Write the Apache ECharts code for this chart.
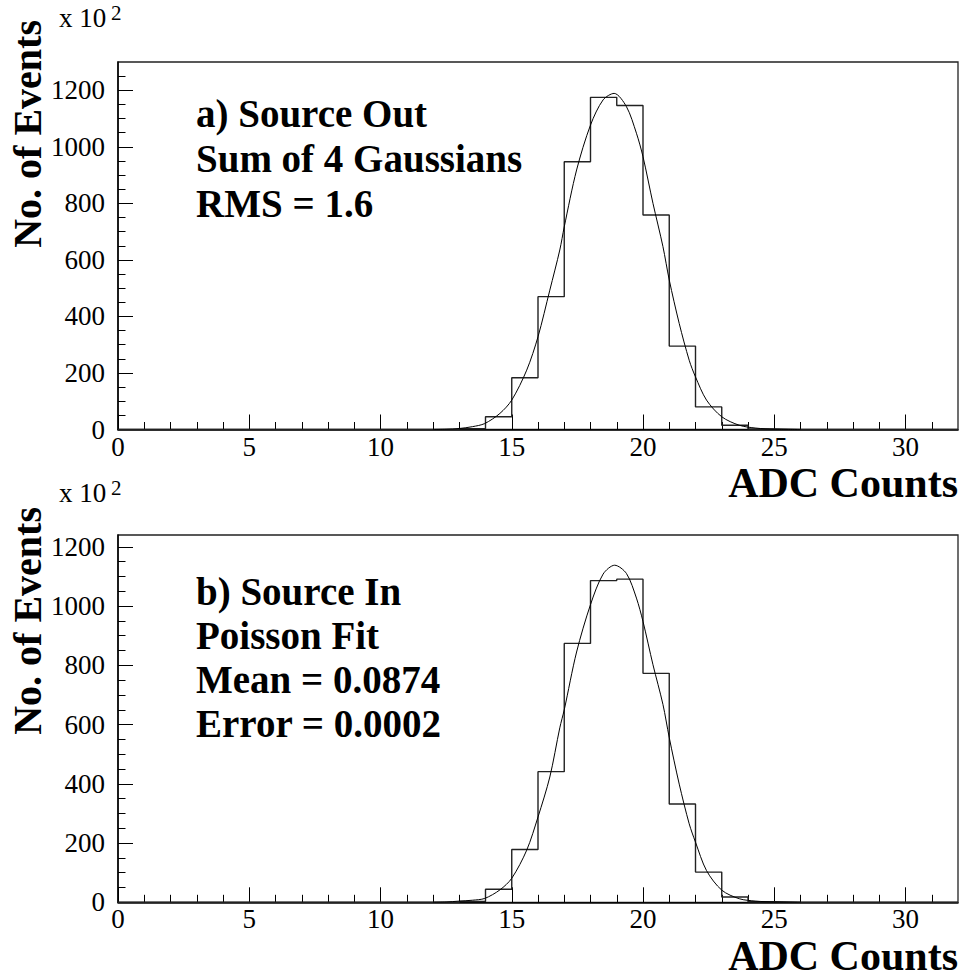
<!DOCTYPE html>
<html>
<head>
<meta charset="utf-8">
<script src="https://cdn.jsdelivr.net/npm/echarts@6/dist/echarts.min.js"></script>
<style>
html,body{margin:0;padding:0;background:#fff;}
#chart{width:963px;height:978px;}
</style>
</head>
<body>
<div id="chart"></div>
<script>
// ---------- data ----------
const binLeft = [0,1,2,3,4,5,6,7,8,9,10,11,12,13,14,15,16,17,18,19,20,21,22,23,24,25,26,27,28,29,30,31];
const xMax = 32;
const countsA = [0,0,0,0,0,0,0,0,0,0,0,0,0,3,45,183,470,947,1175,1146,759,295,80,15,2,0,0,0,0,0,0,0];
const countsB = [0,0,0,0,0,0,0,0,0,0,0,0,0,3,44,178,441,874,1086,1091,773,332,102,18,2,0,0,0,0,0,0,0];

const fitAx = [12.0,12.5,13.0,13.5,13.97,14.55,15.0,15.57,16.0,16.45,16.83,17.0,17.47,18.0,18.48,18.9,19.37,19.75,20.0,20.38,20.76,21.0,21.38,21.76,22.0,22.42,23.0,23.67,24.3,25.0,26.0];
const fitAy = [0,1,3.5,10,21,57,104,210,328,493,635,717,918,1077,1166,1189,1142,1048,965,800,647,529,375,245,186,104,45,15,5,1,0];
const fitBx = [12.0,12.5,13.0,13.5,13.97,14.55,15.0,15.57,16.0,16.45,16.83,17.0,17.47,18.0,18.48,18.92,19.37,19.75,20.0,20.38,20.76,21.0,21.38,21.76,22.0,22.42,23.0,23.67,24.3,25.0,26.0];
const fitBy = [0,1,4,7,13,42,81,176,288,423,589,650,845,1005,1108,1138,1110,1027,948,802,668,556,399,265,203,107,41,12,4,1,0];

const xMajorTicks = [0,5,10,15,20,25,30];
const xMinorTicks = [0,1,2,3,4,5,6,7,8,9,10,11,12,13,14,15,16,17,18,19,20,21,22,23,24,25,26,27,28,29,30,31];
const yMajorTicks = [0,200,400,600,800,1000,1200];
const yMinorTicksA = [0,50,100,150,200,250,300,350,400,450,500,550,600,650,700,750,800,850,900,950,1000,1050,1100,1150,1200,1250];
const yMinorTicksB = [0,50,100,150,200,250,300,350,400,450,500,550,600,650,700,750,800,850,900,950,1000,1050,1100,1150,1200];
const yMaxA = 1300;
const yMaxB = 1240;

const textA = ['a) Source Out','Sum of 4 Gaussians','RMS = 1.6'];
const textB = ['b) Source In','Poisson Fit','Mean = 0.0874','Error = 0.0002'];
const xTitle = 'ADC Counts';
const yTitle = 'No. of Events';
const scaleNote = 'x 10';
const scaleExp = '2';

// ---------- build ----------
const FONT = "'Liberation Serif', 'Times New Roman', serif";
function stepData(counts){
  const d = binLeft.map((x,i)=>[x, counts[i]]);
  d.push([xMax, counts[counts.length-1]]);
  return d;
}
function pairs(xs, ys){ return xs.map((x,i)=>[x, ys[i]]); }

const grids = [
  {left:118, right:5, top:62, height:367.5, show:true, borderColor:'#222', borderWidth:1.3, backgroundColor:'transparent'},
  {left:118, right:5, top:535, height:367.3, show:true, borderColor:'#222', borderWidth:1.3, backgroundColor:'transparent'}
];

function xAxes(gi){
  return [
    {gridIndex:gi, type:'value', position:'bottom', min:0, max:xMax,
     axisLine:{show:true, onZero:false, lineStyle:{color:'#000', width:1.5}},
     axisTick:{show:true, inside:true, length:15, customValues:xMajorTicks, lineStyle:{color:'#000', width:1}},
     axisLabel:{show:true, customValues:xMajorTicks, margin:7, lineHeight:20, color:'#000', fontSize:27, fontFamily:FONT,
       formatter:v=>String(v)},
     splitLine:{show:false}},
    {gridIndex:gi, type:'value', position:'bottom', min:0, max:xMax,
     axisLine:{show:false, onZero:false},
     axisTick:{show:true, inside:true, length:7.5, customValues:xMinorTicks, lineStyle:{color:'#000', width:1}},
     axisLabel:{show:false}, splitLine:{show:false}}
  ];
}
function yAxes(gi, ymax, minor){
  return [
    {gridIndex:gi, type:'value', position:'left', min:0, max:ymax,
     axisLine:{show:true, onZero:false, lineStyle:{color:'#000', width:1.5}},
     axisTick:{show:true, inside:true, length:15, customValues:yMajorTicks, lineStyle:{color:'#000', width:1}},
     axisLabel:{show:true, customValues:yMajorTicks, margin:13, lineHeight:20, color:'#000', fontSize:27, fontFamily:FONT,
       formatter:v=>String(v)},
     splitLine:{show:false}},
    {gridIndex:gi, type:'value', position:'left', min:0, max:ymax,
     axisLine:{show:false, onZero:false},
     axisTick:{show:true, inside:true, length:7.5, customValues:minor, lineStyle:{color:'#000', width:1}},
     axisLabel:{show:false}, splitLine:{show:false}}
  ];
}

function txt(x, y, s, size, bold, align, lh){
  return {type:'text', x:x, y:y, silent:true,
    style:{text:s, fill:'#000', font:(bold?'bold ':'')+size+'px '+FONT, lineHeight:lh||size,
      textAlign:align||'left', textVerticalAlign:'middle'}};
}
const graphics = [];
textA.forEach((s,i)=>graphics.push(txt(196, 113 + i*45, s, 39, true, 'left', 34)));
textB.forEach((s,i)=>graphics.push(txt(196, 591 + i*44, s, 39, true, 'left', 34)));
// axis titles
graphics.push(txt(958, 483, xTitle, 42, true, 'right', 30));
graphics.push(txt(958, 956, xTitle, 42, true, 'right', 30));
[20, 507].forEach(y0=>{
  graphics.push({type:'text', x:27, y:y0, rotation:Math.PI/2, silent:true,
    style:{text:yTitle, fill:'#000', font:'bold 40px '+FONT, lineHeight:30, textAlign:'right', textVerticalAlign:'middle'}});
});
// exponent labels
[18, 493].forEach(y0=>{
  graphics.push(txt(59, y0, scaleNote, 27, false, 'left', 22));
  graphics.push(txt(111, y0 - 5, scaleExp, 21, false, 'left', 18));
});

const option = {
  animation:false,
  backgroundColor:'#fff',
  grid:grids,
  xAxis:[...xAxes(0), ...xAxes(1)],
  yAxis:[...yAxes(0, yMaxA, yMinorTicksA), ...yAxes(1, yMaxB, yMinorTicksB)],
  series:[
    {type:'line', xAxisIndex:0, yAxisIndex:0, step:'end', data:stepData(countsA), symbol:'none',
     lineStyle:{color:'#222', width:1.4}},
    {type:'line', xAxisIndex:0, yAxisIndex:0, smooth:0.3, data:pairs(fitAx, fitAy), symbol:'none',
     lineStyle:{color:'#000', width:1}},
    {type:'line', xAxisIndex:2, yAxisIndex:2, step:'end', data:stepData(countsB), symbol:'none',
     lineStyle:{color:'#222', width:1.4}},
    {type:'line', xAxisIndex:2, yAxisIndex:2, smooth:0.3, data:pairs(fitBx, fitBy), symbol:'none',
     lineStyle:{color:'#000', width:1}}
  ],
  graphic:graphics
};
const chart = echarts.init(document.getElementById('chart'), null, {renderer:'svg'});
chart.setOption(option);
</script>
</body>
</html>
